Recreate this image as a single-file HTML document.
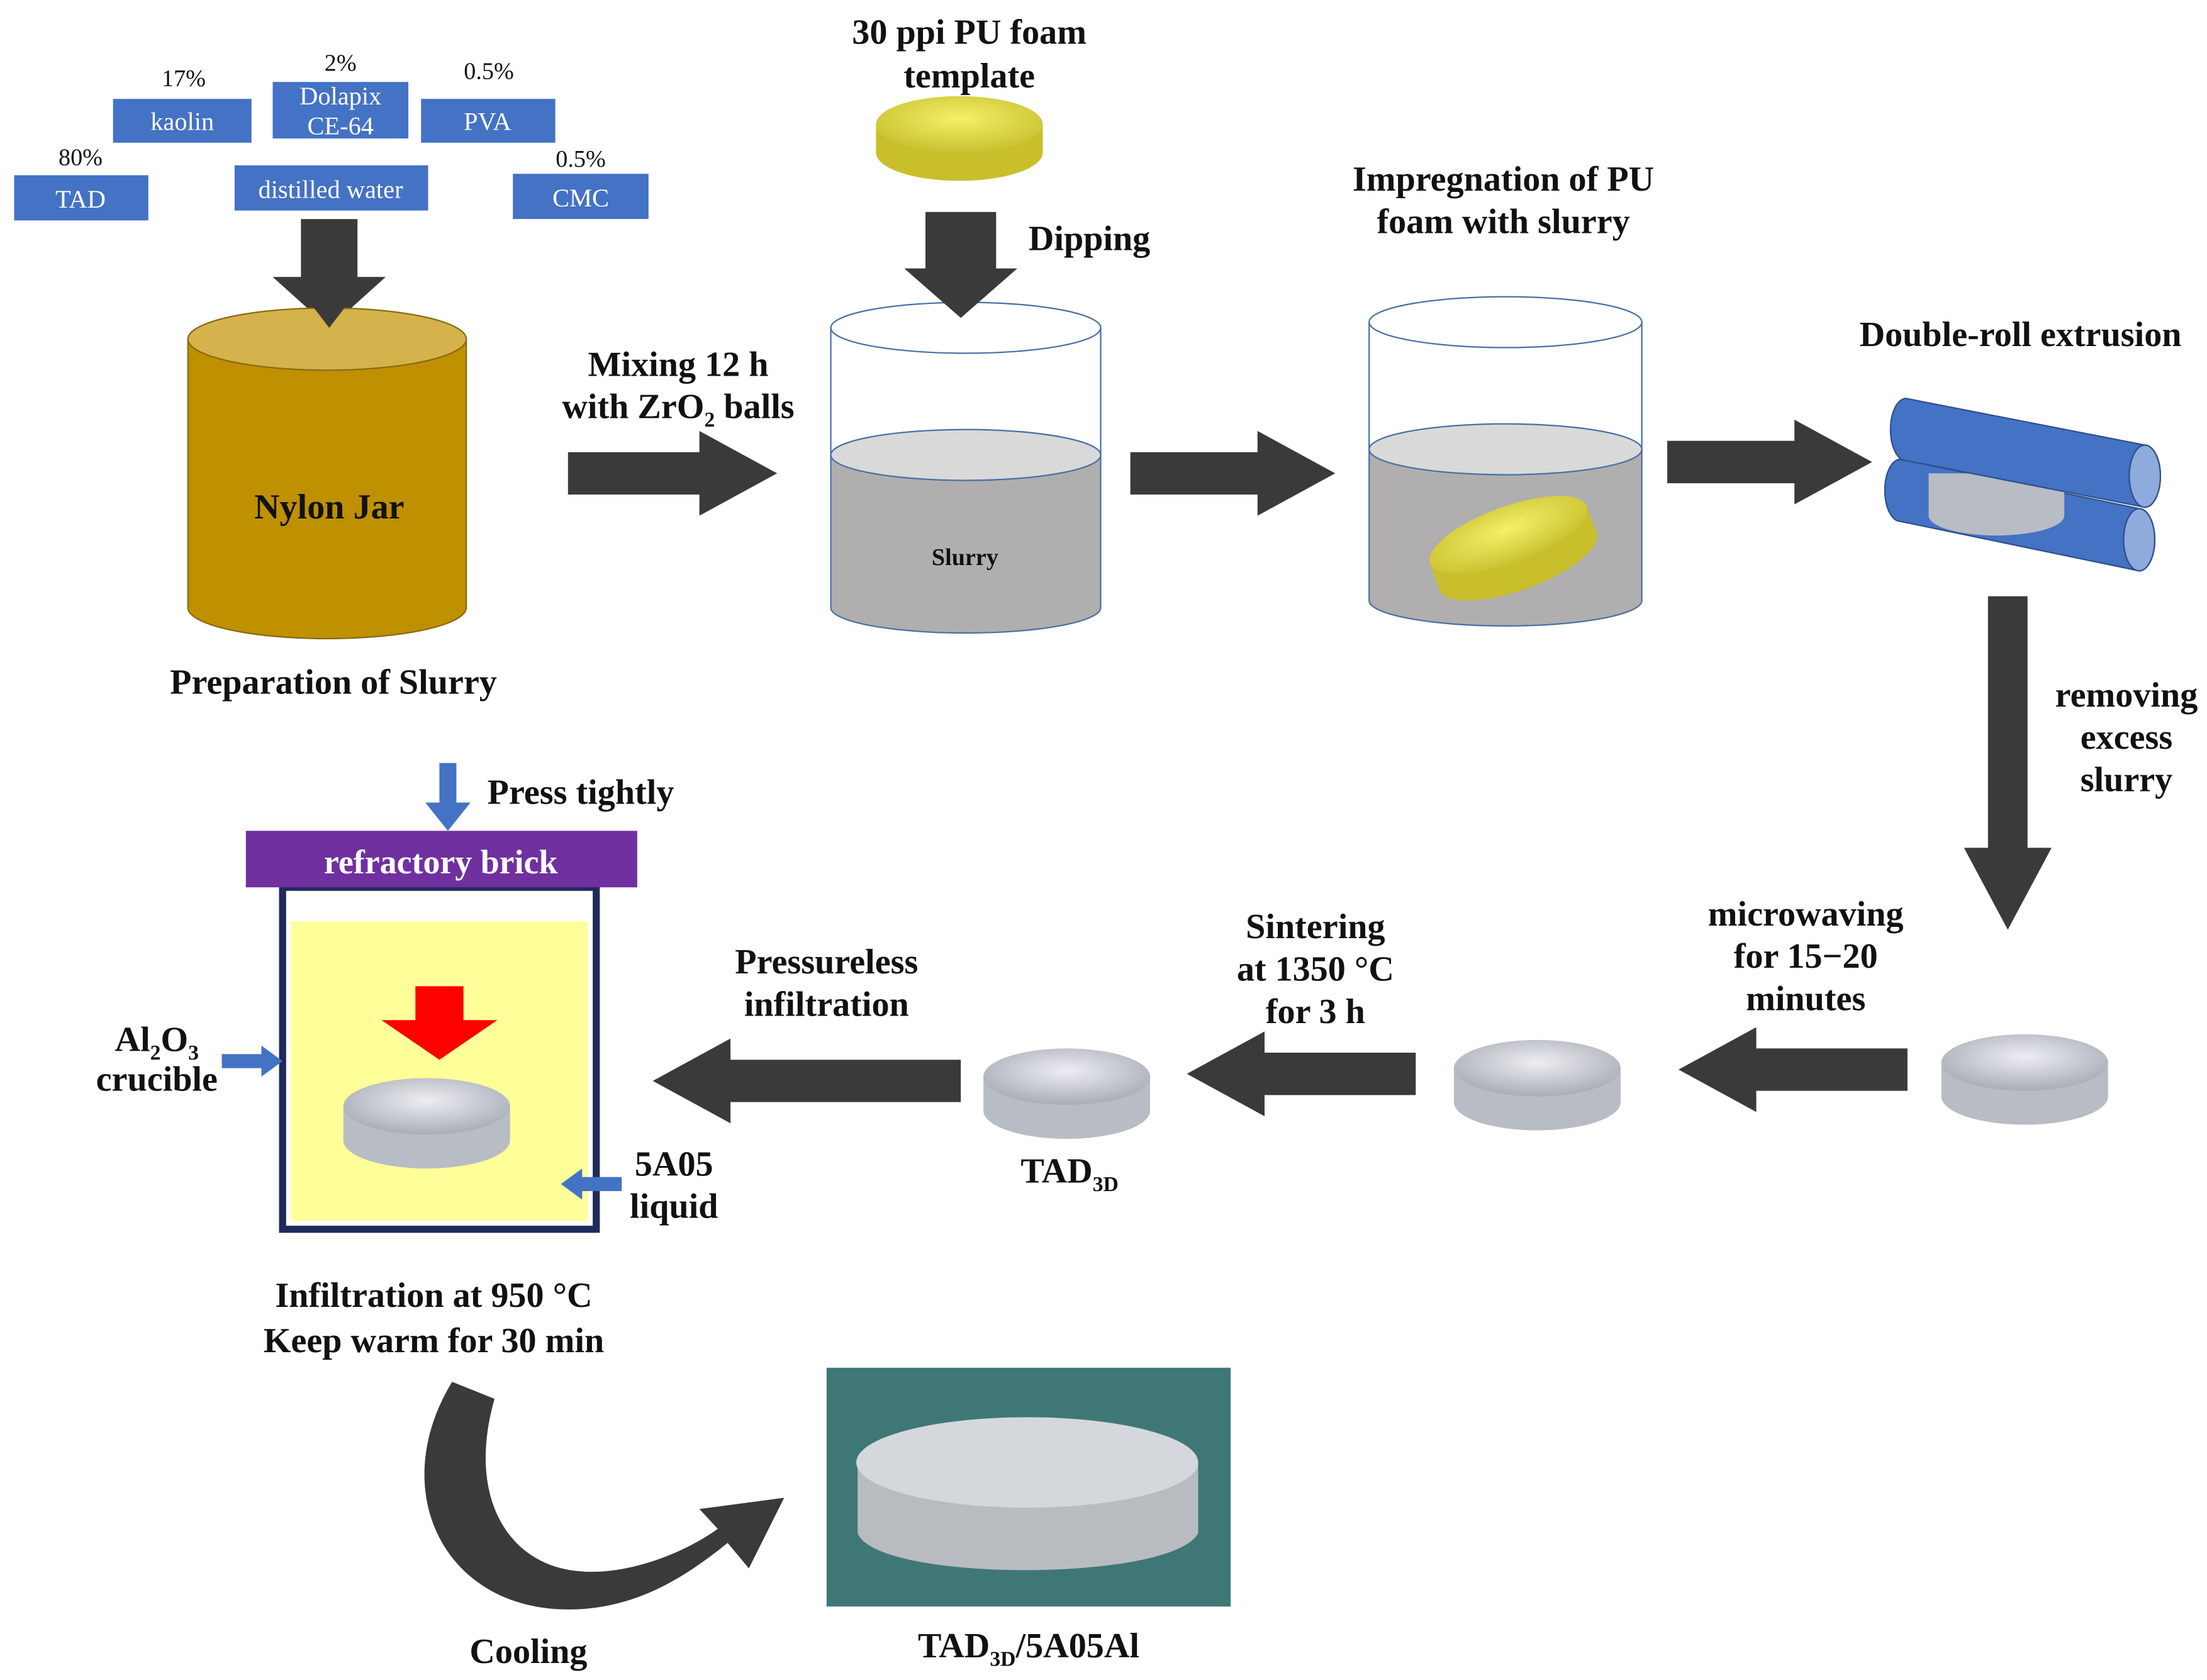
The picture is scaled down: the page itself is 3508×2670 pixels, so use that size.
<!DOCTYPE html>
<html><head><meta charset="utf-8"><style>html,body{margin:0;padding:0;background:#fff}svg{display:block}
text{font-family:"Liberation Serif",serif;font-weight:bold;fill:#111;text-anchor:middle}
.n{font-weight:normal;font-size:17px}
.w{fill:#fff;font-weight:normal;font-size:18px}
.t{font-size:25px}
</style></head><body>
<svg width="3508" height="2670" viewBox="0 0 1562 1189" preserveAspectRatio="none" xmlns="http://www.w3.org/2000/svg">
<defs>
<radialGradient id="foamY" cx="50%" cy="40%" r="60%"><stop offset="0" stop-color="#f3f06a"/><stop offset="1" stop-color="#c9c230"/></radialGradient>
<radialGradient id="foamG" cx="50%" cy="40%" r="60%"><stop offset="0" stop-color="#eceef2"/><stop offset="1" stop-color="#a9adb6"/></radialGradient>
<g id="disc"><path d="M-59,-12 L-59,12 A59,20 0 0 0 59,12 L59,-12 Z" fill="#b8bcc4"/><ellipse cx="0" cy="-12" rx="59" ry="20" fill="url(#foamG)"/></g>
<g id="ydisc"><path d="M-59,-10 L-59,10 A59,20 0 0 0 59,10 L59,-10 Z" fill="#c8bf2a"/><ellipse cx="0" cy="-10" rx="59" ry="20" fill="url(#foamY)"/></g>
</defs>
<rect width="1562" height="1189" fill="#fff"/>
<g fill="#4472c4">
<rect x="80" y="70" width="98" height="31"/><rect x="193" y="58" width="96" height="40"/><rect x="298" y="70" width="95" height="31"/>
<rect x="10" y="124" width="95" height="32"/><rect x="166" y="117" width="137" height="32"/><rect x="363" y="123" width="96" height="32"/>
</g>
<text class="w" x="129" y="92">kaolin</text><text class="w" x="241" y="74">Dolapix</text><text class="w" x="241" y="95">CE-64</text>
<text class="w" x="345" y="92">PVA</text><text class="w" x="57" y="147">TAD</text><text class="w" x="234" y="140">distilled water</text><text class="w" x="411" y="146">CMC</text>
<text class="n" x="130" y="61">17%</text><text class="n" x="241" y="50">2%</text><text class="n" x="346" y="56">0.5%</text>
<text class="n" x="57" y="117">80%</text><text class="n" x="411" y="118">0.5%</text>
<polygon points="213,155 253,155 253,196 273,196 233,232 193,196 213,196" fill="#3a3a3a"/>
<path d="M133,240 L133,430 A98.5,22 0 0 0 330,430 L330,240 Z" fill="#bf9000" stroke="#8a6a10"/>
<ellipse cx="231.5" cy="240" rx="98.5" ry="22" fill="#d4b24c" stroke="#8a6a10"/>
<polygon points="213,196 253,196 253,206 233,232 213,206" fill="#3a3a3a"/>
<text class="t" x="233" y="367">Nylon Jar</text>
<text class="t" x="236" y="491">Preparation of Slurry</text>
<text class="t" x="480" y="266">Mixing 12 h</text>
<text class="t" x="480" y="296">with ZrO<tspan font-size="15" dy="6">2</tspan><tspan dy="-6"> balls</tspan></text>
<polygon points="402,320 495,320 495,305 550,335 495,365 495,350 402,350" fill="#3a3a3a"/>
<path d="M588,322 L588,430 A95.5,18 0 0 0 779,430 L779,322 Z" fill="#b0aeae" stroke="#4a6fa5"/>
<ellipse cx="683.5" cy="322" rx="95.5" ry="18" fill="#d9d9d9" stroke="#4a6fa5"/>
<path d="M588,232 L588,322 M779,232 L779,322" stroke="#4a6fa5" fill="none"/>
<ellipse cx="683.5" cy="232" rx="95.5" ry="18" fill="none" stroke="#4a6fa5"/>
<text x="683" y="400" style="font-size:17px">Slurry</text>
<text class="t" x="686" y="31">30 ppi PU foam</text><text class="t" x="686" y="62">template</text>
<use href="#ydisc" x="679" y="98"/>
<polygon points="655,150 705,150 705,190 720,190 680,225 640,190 655,190" fill="#3a3a3a"/>
<text class="t" x="771" y="177">Dipping</text>
<polygon points="800,320 890,320 890,305 945,335 890,365 890,350 800,350" fill="#3a3a3a"/>
<path d="M969,318 L969,425 A96.5,18 0 0 0 1162,425 L1162,318 Z" fill="#b0aeae" stroke="#4a6fa5"/>
<ellipse cx="1065.5" cy="318" rx="96.5" ry="18" fill="#d9d9d9" stroke="#4a6fa5"/>
<path d="M969,228 L969,318 M1162,228 L1162,318" stroke="#4a6fa5" fill="none"/>
<ellipse cx="1065.5" cy="228" rx="96.5" ry="18" fill="none" stroke="#4a6fa5"/>
<use href="#ydisc" transform="translate(1071,388) rotate(-20)"/>
<text class="t" x="1064" y="135">Impregnation of PU</text><text class="t" x="1064" y="165">foam with slurry</text>
<polygon points="1180,312 1270,312 1270,297 1325,327 1270,357 1270,342 1180,342" fill="#3a3a3a"/>
<text class="t" x="1430" y="245">Double-roll extrusion</text>
<!-- lower roller -->
<path d="M1345,325 L1514,360 A11,22 0 0 1 1514,404 L1345,369 A11,22 0 0 1 1345,325 Z" fill="#4472c4" stroke="#2f4f8a"/>
<ellipse cx="1514" cy="382" rx="11" ry="22" fill="#8faadc" stroke="#2f4f8a"/>
<!-- disc between -->
<path d="M1365,335 L1365,365 A48,14 0 0 0 1461,365 L1461,335 Z" fill="#b8bcc4"/>
<!-- upper roller -->
<path d="M1349,282 L1518,315 A11,22 0 0 1 1518,359 L1349,326 A11,22 0 0 1 1349,282 Z" fill="#4472c4" stroke="#2f4f8a"/>
<ellipse cx="1518" cy="337" rx="11" ry="22" fill="#8faadc" stroke="#2f4f8a"/>
<polygon points="1407,422 1435,422 1435,600 1452,600 1421,658 1390,600 1407,600" fill="#3a3a3a"/>
<text class="t" x="1505" y="500">removing</text><text class="t" x="1505" y="530">excess</text><text class="t" x="1505" y="560">slurry</text>
<use href="#disc" x="1433" y="764"/><use href="#disc" x="1088" y="768"/><use href="#disc" x="755" y="774"/>
<polygon points="1350,742 1243,742 1243,727 1188,757 1243,787 1243,772 1350,772" fill="#3a3a3a"/>
<polygon points="1002,745 895,745 895,730 840,760 895,790 895,775 1002,775" fill="#3a3a3a"/>
<polygon points="680,750 517,750 517,735 462,765 517,795 517,780 680,780" fill="#3a3a3a"/>
<text class="t" x="1278" y="655">microwaving</text><text class="t" x="1278" y="685">for 15−20</text><text class="t" x="1278" y="715">minutes</text>
<text class="t" x="931" y="664">Sintering</text><text class="t" x="931" y="694">at 1350 °C</text><text class="t" x="931" y="724">for 3 h</text>
<text class="t" x="585" y="689">Pressureless</text><text class="t" x="585" y="719">infiltration</text>
<text class="t" x="757" y="837">TAD<tspan font-size="15" dy="6">3D</tspan></text>
<rect x="200" y="628" width="222" height="242" fill="#fff" stroke="#1f2a5a" stroke-width="5"/>
<rect x="206" y="652" width="210" height="212" fill="#ffff99"/>
<rect x="174" y="588" width="277" height="40" fill="#7030a0"/>
<text x="312" y="618" style="fill:#fff;font-size:24px">refractory brick</text>
<polygon points="311,540 323,540 323,568 333,568 317,588 301,568 311,568" fill="#4472c4"/>
<text class="t" x="411" y="569">Press tightly</text>
<polygon points="294,698 328,698 328,722 352,722 311,750 270,722 294,722" fill="#ff0000"/>
<use href="#disc" x="302" y="795"/>
<text class="t" x="111" y="744">Al<tspan font-size="15" dy="6">2</tspan><tspan dy="-6">O</tspan><tspan font-size="15" dy="6">3</tspan></text>
<text class="t" x="111" y="772">crucible</text>
<polygon points="157,746 185,746 185,740 200,751 185,762 185,756 157,756" fill="#4472c4"/>
<polygon points="440,833 412,833 412,827 397,838 412,849 412,843 440,843" fill="#4472c4"/>
<text class="t" x="477" y="832">5A05</text><text class="t" x="477" y="862">liquid</text>
<text class="t" x="307" y="925">Infiltration at 950 °C</text><text class="t" x="307" y="957">Keep warm for 30 min</text>
<path d="M320,978 C270,1060 320,1150 420,1138 C460,1133 490,1112 515,1092 L530,1110 L555,1060 L495,1068 L508,1082 C480,1102 440,1115 410,1112 C360,1108 330,1060 350,990 Z" fill="#3a3a3a"/>
<text class="t" x="374" y="1177">Cooling</text>
<rect x="585" y="968" width="286" height="169" fill="#3f7777"/>
<path d="M607,1035 L607,1085 C620,1120 830,1120 848,1085 L848,1035 Z" fill="#b8bcc0"/>
<ellipse cx="727" cy="1035" rx="121" ry="32" fill="#d4d8dc"/>
<text class="t" x="728" y="1173">TAD<tspan font-size="15" dy="6">3D</tspan><tspan dy="-6">/5A05Al</tspan></text>
</svg>
</body></html>
